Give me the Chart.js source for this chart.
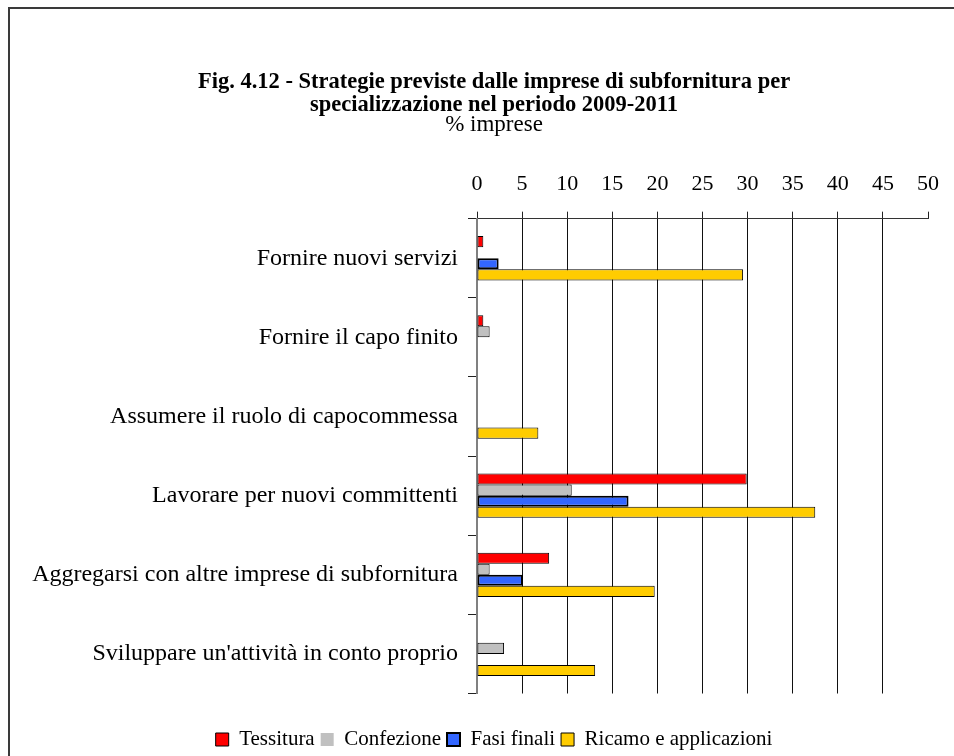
<!DOCTYPE html>
<html>
<head>
<meta charset="utf-8">
<script src="https://cdn.jsdelivr.net/npm/chart.js@4/dist/chart.umd.min.js"></script>
<style>
    body { margin: 0; overflow: hidden; background: #fff; }
    #cornice { position: absolute; left: 8px; top: 7px; width: 1000px; height: 800px; border: 2px solid #3a3a3a; }
    #grafico { position: absolute; left: 0; top: 0; }
</style>
</head>
<body>
<div id="cornice"></div>
<canvas id="grafico" width="988" height="760"></canvas>
<script>
//-----DATI
const categorie = [
    "Fornire nuovi servizi",
    "Fornire il capo finito",
    "Assumere il ruolo di capocommessa",
    "Lavorare per nuovi committenti",
    "Aggregarsi con altre imprese di subfornitura",
    "Sviluppare un'attività in conto proprio"
]
const tessitura = [0.7, 0.7, 0, 29.9, 8.0, 0]
const confezione = [0, 1.4, 0, 10.5, 1.4, 3.0]
const fasiFinali = [2.4, 0, 0, 16.8, 5.1, 0]
const ricamo = [29.5, 0, 6.8, 37.5, 19.7, 13.1]

const serif = "'Liberation Serif', 'Times New Roman', serif"

// bordo nullo per le barre a zero
const bordo = (w) => (ctx) => (ctx.type === 'data' && ctx.raw === 0) ? 0 : w

function serie(label, valori, colore, spessore) {
    return {
        label: label,
        data: valori,
        backgroundColor: colore,
        borderColor: '#000',
        borderWidth: bordo(spessore),
        borderSkipped: false
    }
}

const data = {
    labels: categorie,
    datasets: [
        serie('Tessitura', tessitura, '#FF0000', 1),
        serie('Confezione', confezione, '#C0C0C0', 1),
        serie('Fasi finali', fasiFinali, '#3366FF', 2),
        serie('Ricamo e applicazioni', ricamo, '#FFCC00', 1)
    ]
}

const config = {
    type: 'bar',
    data: data,
    options: {
        indexAxis: 'y',
        responsive: false,
        animation: false,
        categoryPercentage: 0.56,
        barPercentage: 1,
        layout: {
            padding: { top: 70.5, left: 0, right: 0, bottom: 0 }
        },
        scales: {
            x: {
                position: 'top',
                min: 0,
                max: 50,
                ticks: {
                    stepSize: 5,
                    color: '#000',
                    padding: 14,
                    font: { family: serif, size: 22 }
                },
                grid: {
                    color: (ctx) => (ctx.tick && (ctx.tick.value === 0 || ctx.tick.value === 50)) ? 'rgba(0,0,0,0)' : '#111',
                    tickColor: '#222',
                    tickLength: 7,
                    lineWidth: 1
                },
                border: { color: '#333', width: 1 },
                afterFit: (scale) => { scale.height = 85 }
            },
            y: {
                ticks: {
                    color: '#000',
                    padding: 10,
                    font: { family: serif, size: 24 }
                },
                grid: {
                    offset: true,
                    drawOnChartArea: false,
                    tickLength: 9,
                    color: '#222'
                },
                border: { color: '#808080', width: 2 },
                afterFit: (scale) => { scale.width = 477 }
            },
            // margine vuoto a destra dell'area del grafico
            margine: {
                type: 'linear',
                position: 'right',
                ticks: { display: false },
                grid: { display: false },
                border: { display: false },
                afterFit: (scale) => { scale.width = 60 }
            }
        },
        plugins: {
            title: {
                display: true,
                text: ['Fig. 4.12 - Strategie previste dalle imprese di subfornitura per',
                       'specializzazione nel periodo 2009-2011'],
                color: '#000',
                padding: 0,
                font: { family: serif, size: 22.5, weight: 'bold', lineHeight: 1.02 }
            },
            subtitle: {
                display: true,
                text: '% imprese',
                color: '#000',
                padding: 0,
                font: { family: serif, size: 23, lineHeight: 0.75 }
            },
            legend: {
                position: 'bottom',
                title: {
                    display: true,
                    text: '',
                    padding: { top: 19.5, bottom: 0 },
                    font: { size: 10, lineHeight: 1 }
                },
                labels: {
                    color: '#000',
                    boxWidth: 13,
                    boxHeight: 13,
                    padding: 6,
                    font: { family: serif, size: 21 }
                }
            },
            tooltip: { enabled: false }
        }
    }
}

const grafico = new Chart(document.getElementById('grafico'), config)
</script>
</body>
</html>
